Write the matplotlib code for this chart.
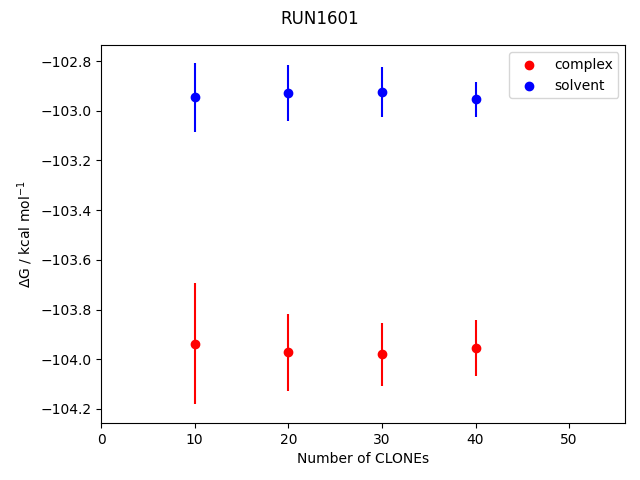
import numpy as np
import matplotlib.pyplot as plt

# numero de clones
clones = [10, 20, 30, 40]

# complex
dg_complex = [-103.938, -103.972, -103.980, -103.956]
err_complex = [0.243, 0.156, 0.126, 0.112]

# solvent
dg_solvent = [-102.946, -102.930, -102.925, -102.954]
err_solvent = [0.140, 0.112, 0.100, 0.070]

fig, ax = plt.subplots(figsize=(6.4, 4.8), dpi=100)
ax.errorbar(clones, dg_complex, yerr=err_complex, fmt='none', ecolor='red')
ax.scatter(clones, dg_complex, color='red', label='complex', zorder=3)
ax.errorbar(clones, dg_solvent, yerr=err_solvent, fmt='none', ecolor='blue')
ax.scatter(clones, dg_solvent, color='blue', label='solvent', zorder=3)
ax.set_xlim(0, 56)
ax.set_ylim(-104.256, -102.736)
ax.set_xlabel('Number of CLONEs')
ax.set_ylabel(r'$\Delta$G / kcal mol$^{-1}$')
ax.legend(loc='upper right')
fig.suptitle('RUN1601')
fig.subplots_adjust(left=0.158, right=0.977, top=0.906, bottom=0.119)
fig.savefig('out.png')
